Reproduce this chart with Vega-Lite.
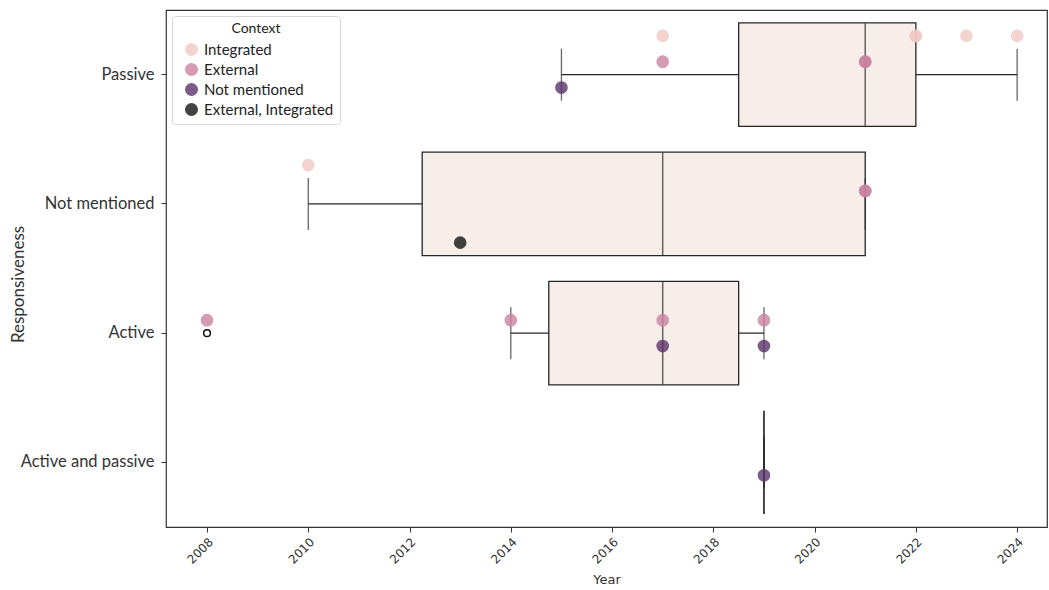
{
  "$schema": "https://vega.github.io/schema/vega-lite/v6.json",
  "width": 881,
  "height": 517,
  "autosize": {"type": "none"},
  "padding": {"left": 166, "top": 10, "right": 2, "bottom": 63},
  "background": "white",
  "config": {
    "view": {"stroke": "#333333", "strokeWidth": 1.2},
    "axis": {"grid": false, "domain": false, "tickColor": "#333333", "tickSize": 5, "labelColor": "#333333", "titleColor": "#333333", "titleFontWeight": "normal"}
  },
  "datasets": {
    "boxes": [
      {"Responsiveness": "Passive", "lo": 2015, "q1": 2018.5, "median": 2021, "q3": 2022, "hi": 2024},
      {"Responsiveness": "Not mentioned", "lo": 2010, "q1": 2012.25, "median": 2017, "q3": 2021, "hi": 2021},
      {"Responsiveness": "Active", "lo": 2014, "q1": 2014.75, "median": 2017, "q3": 2018.5, "hi": 2019},
      {"Responsiveness": "Active and passive", "lo": 2019, "q1": 2019, "median": 2019, "q3": 2019, "hi": 2019}
    ],
    "outliers": [
      {"Responsiveness": "Active", "Year": 2008}
    ],
    "points": [
      {"Responsiveness": "Passive", "Year": 2017, "Context": "Integrated"},
      {"Responsiveness": "Passive", "Year": 2022, "Context": "Integrated"},
      {"Responsiveness": "Passive", "Year": 2022, "Context": "Integrated"},
      {"Responsiveness": "Passive", "Year": 2023, "Context": "Integrated"},
      {"Responsiveness": "Passive", "Year": 2024, "Context": "Integrated"},
      {"Responsiveness": "Passive", "Year": 2017, "Context": "External"},
      {"Responsiveness": "Passive", "Year": 2021, "Context": "External"},
      {"Responsiveness": "Passive", "Year": 2021, "Context": "External"},
      {"Responsiveness": "Passive", "Year": 2015, "Context": "Not mentioned"},
      {"Responsiveness": "Not mentioned", "Year": 2010, "Context": "Integrated"},
      {"Responsiveness": "Not mentioned", "Year": 2021, "Context": "External"},
      {"Responsiveness": "Not mentioned", "Year": 2021, "Context": "External"},
      {"Responsiveness": "Not mentioned", "Year": 2013, "Context": "External, Integrated"},
      {"Responsiveness": "Active", "Year": 2008, "Context": "External"},
      {"Responsiveness": "Active", "Year": 2014, "Context": "External"},
      {"Responsiveness": "Active", "Year": 2017, "Context": "External"},
      {"Responsiveness": "Active", "Year": 2019, "Context": "External"},
      {"Responsiveness": "Active", "Year": 2017, "Context": "Not mentioned"},
      {"Responsiveness": "Active", "Year": 2019, "Context": "Not mentioned"},
      {"Responsiveness": "Active and passive", "Year": 2019, "Context": "Not mentioned"}
    ]
  },
  "encoding": {
    "y": {
      "field": "Responsiveness",
      "type": "nominal",
      "sort": ["Passive", "Not mentioned", "Active", "Active and passive"],
      "scale": {"type": "band", "domain": ["Passive", "Not mentioned", "Active", "Active and passive"], "paddingInner": 0, "paddingOuter": 0},
      "axis": {"title": "Responsiveness", "labelFont": "Lato", "labelFontSize": 16.5, "titleFont": "Lato", "titleFontSize": 17, "labelPadding": 7, "titleY": 274, "titleX": -139}
    }
  },
  "layer": [
    {
      "data": {"name": "boxes"},
      "mark": {"type": "rule", "color": "#262626", "strokeWidth": 1.3},
      "encoding": {
        "x": {"field": "lo", "type": "quantitative"},
        "x2": {"field": "hi"}
      }
    },
    {
      "data": {"name": "boxes"},
      "mark": {"type": "bar", "fill": "#f7ede9", "stroke": "#262626", "strokeWidth": 1.3, "height": {"band": 0.8}},
      "encoding": {
        "x": {
          "field": "q1",
          "type": "quantitative",
          "scale": {"domain": [2007.19, 2024.59], "nice": false, "zero": false},
          "axis": {"title": "Year", "values": [2008, 2010, 2012, 2014, 2016, 2018, 2020, 2022, 2024], "format": "d", "labelAngle": -45, "labelFont": "DejaVu Sans", "labelFontSize": 12, "titleFont": "DejaVu Sans", "titleFontSize": 13, "labelPadding": 4, "titlePadding": 8}
        },
        "x2": {"field": "q3"}
      }
    },
    {
      "data": {"name": "boxes"},
      "mark": {"type": "tick", "orient": "vertical", "color": "#262626", "size": 103, "thickness": 1.5},
      "encoding": {
        "x": {"field": "median", "type": "quantitative"}
      }
    },
    {
      "data": {"name": "boxes"},
      "mark": {"type": "tick", "orient": "vertical", "color": "#262626", "size": 52, "thickness": 1.3},
      "encoding": {
        "x": {"field": "lo", "type": "quantitative"}
      }
    },
    {
      "data": {"name": "boxes"},
      "mark": {"type": "tick", "orient": "vertical", "color": "#262626", "size": 52, "thickness": 1.3},
      "encoding": {
        "x": {"field": "hi", "type": "quantitative"}
      }
    },
    {
      "data": {"name": "outliers"},
      "mark": {"type": "point", "shape": "circle", "filled": false, "stroke": "#111111", "strokeWidth": 1.5, "size": 45, "opacity": 1},
      "encoding": {
        "x": {"field": "Year", "type": "quantitative"}
      }
    },
    {
      "data": {"name": "points"},
      "mark": {"type": "circle", "size": 160, "opacity": 0.8},
      "encoding": {
        "x": {"field": "Year", "type": "quantitative"},
        "yOffset": {
          "field": "Context",
          "type": "nominal",
          "scale": {"type": "band", "domain": ["Integrated", "External", "Not mentioned", "External, Integrated"], "paddingInner": 0, "paddingOuter": 0.5}
        },
        "color": {
          "field": "Context",
          "type": "nominal",
          "scale": {"domain": ["Integrated", "External", "Not mentioned", "External, Integrated"], "range": ["#f1c8c3", "#c982a0", "#5a3269", "#141414"]},
          "legend": {"title": "Context", "orient": "top-left", "offset": 6, "fillColor": "white", "strokeColor": "#d8d8d8", "cornerRadius": 3, "padding": 6, "titleAnchor": "middle", "titlePadding": 6, "titleFont": "Lato", "titleFontSize": 14, "titleFontWeight": "normal", "labelFont": "Lato", "labelFontSize": 15, "labelColor": "#222222", "titleColor": "#222222", "symbolSize": 170, "symbolOpacity": 0.8, "symbolOffset": 6, "rowPadding": 4, "labelOffset": 5}
        }
      }
    }
  ]
}
